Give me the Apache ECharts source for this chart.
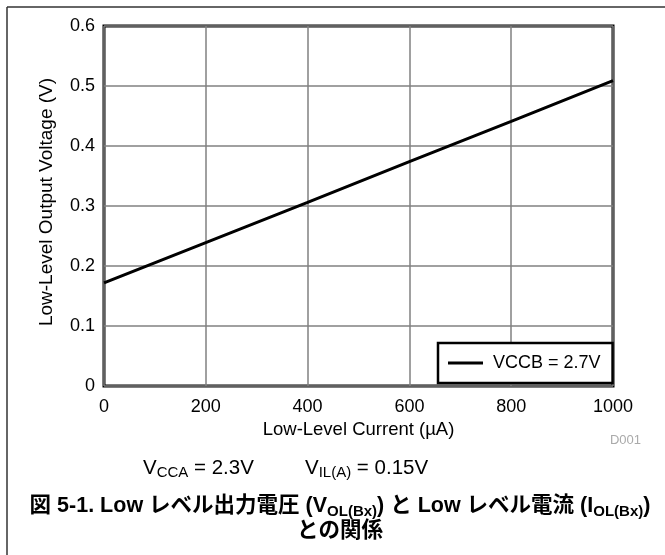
<!DOCTYPE html>
<html>
<head>
<meta charset="utf-8">
<script src="https://cdn.jsdelivr.net/npm/echarts@6/dist/echarts.min.js"></script>
<style>
html,body{margin:0;padding:0;background:#fff;}
#chart{width:665px;height:555px;}
</style>
</head>
<body>
<div id="chart"></div>
<script>
// Data
const currentUA = [0, 200, 400, 600, 800, 1000];
const voltageV = [0.172, 0.239, 0.306, 0.374, 0.441, 0.509];
const seriesName = 'VCCB = 2.7V';
const xTicks = [0, 200, 400, 600, 800, 1000];
const yTicks = [0, 0.1, 0.2, 0.3, 0.4, 0.5, 0.6];

const FONT = '"Liberation Sans", Arial, "Noto Sans CJK JP", sans-serif';
const chart = echarts.init(document.getElementById('chart'), null, {renderer: 'canvas'});

const subRich = (size, bold) => ({
  fontSize: size, fontFamily: FONT, fontWeight: bold ? 'bold' : 'normal',
  lineHeight: size, verticalAlign: 'bottom', color: '#000'
});

chart.setOption({
  animation: false,
  backgroundColor: '#fff',
  grid: {left: 104, top: 26, width: 509, height: 360, show: true,
    borderColor: '#000', borderWidth: 3, backgroundColor: 'transparent'},
  legend: {
    data: [{name: seriesName, icon: 'rect'}], left: 438, top: 343,
    orient: 'horizontal', padding: [11, 12, 11, 10],
    backgroundColor: '#fff', borderColor: '#000', borderWidth: 2.5, borderRadius: 0,
    itemWidth: 35, itemHeight: 3, itemGap: 10,
    itemStyle: {color: '#000'},
    textStyle: {fontSize: 18, fontFamily: FONT, color: '#000', padding: [0, 0, 0, 5]}
  },
  xAxis: {
    type: 'value', min: xTicks[0], max: xTicks[xTicks.length - 1], interval: 200,
    name: 'Low-Level Current (µA)', nameLocation: 'middle', nameGap: 32,
    nameTextStyle: {fontSize: 18.5, fontFamily: FONT, color: '#000'},
    axisLine: {show: false}, axisTick: {show: false},
    axisLabel: {fontSize: 18, fontFamily: FONT, color: '#000', margin: 12,
      formatter: v => String(v)},
    splitLine: {show: true, lineStyle: {color: '#808080', width: 1.5}}
  },
  yAxis: {
    type: 'value', min: yTicks[0], max: yTicks[yTicks.length - 1], interval: 0.1,
    name: 'Low-Level Output Voltage (V)', nameLocation: 'middle', nameGap: 48,
    nameTextStyle: {fontSize: 19, fontFamily: FONT, color: '#000', padding: [0, 0, 0, 8]},
    axisLine: {show: false}, axisTick: {show: false},
    axisLabel: {fontSize: 18, fontFamily: FONT, color: '#000', margin: 9,
      formatter: v => String(Math.round(v * 10) / 10)},
    splitLine: {show: true, lineStyle: {color: '#808080', width: 1.5}}
  },
  series: [{
    name: seriesName, type: 'line', symbol: 'none', showSymbol: false,
    data: currentUA.map((x, i) => [x, voltageV[i]]),
    lineStyle: {color: '#000', width: 3}, itemStyle: {color: '#000'}, z: 5
  }],
  graphic: [
    {type: 'line', shape: {x1: 7, y1: 7, x2: 665, y2: 7}, style: {stroke: '#333', lineWidth: 1.5}, silent: true},
    {type: 'line', shape: {x1: 7, y1: 7, x2: 7, y2: 555}, style: {stroke: '#333', lineWidth: 1.5}, silent: true},
    {type: 'text', x: 641, y: 440, style: {text: 'D001', fontSize: 13, fontFamily: FONT, fill: '#aaa', align: 'right', verticalAlign: 'middle'}},
    {type: 'text', x: 143, y: 468, style: {
      text: '{b|V}{s|CCA}{b| = 2.3V}', verticalAlign: 'middle',
      rich: {b: {fontSize: 20.5, fontFamily: FONT, lineHeight: 24, color: '#000'}, s: subRich(15, false)}}},
    {type: 'text', x: 305, y: 468, style: {
      text: '{b|V}{s|IL(A)}{b| = 0.15V}', verticalAlign: 'middle',
      rich: {b: {fontSize: 20.5, fontFamily: FONT, lineHeight: 24, color: '#000'}, s: subRich(15, false)}}},
    {type: 'text', x: 340, y: 506, style: {
      text: '{b|図 5-1. Low レベル出力電圧 (V}{s|OL(Bx)}{b|) と Low レベル電流 (I}{s|OL(Bx)}{b|)}',
      align: 'center', verticalAlign: 'middle',
      rich: {b: {fontSize: 21.5, fontFamily: FONT, fontWeight: 'bold', lineHeight: 26, color: '#000'}, s: subRich(15, true)}}},
    {type: 'text', x: 340, y: 531, style: {
      text: 'との関係', align: 'center', verticalAlign: 'middle',
      fontSize: 21.5, fontFamily: FONT, fontWeight: 'bold', fill: '#000'}}
  ]
});
</script>
</body>
</html>
